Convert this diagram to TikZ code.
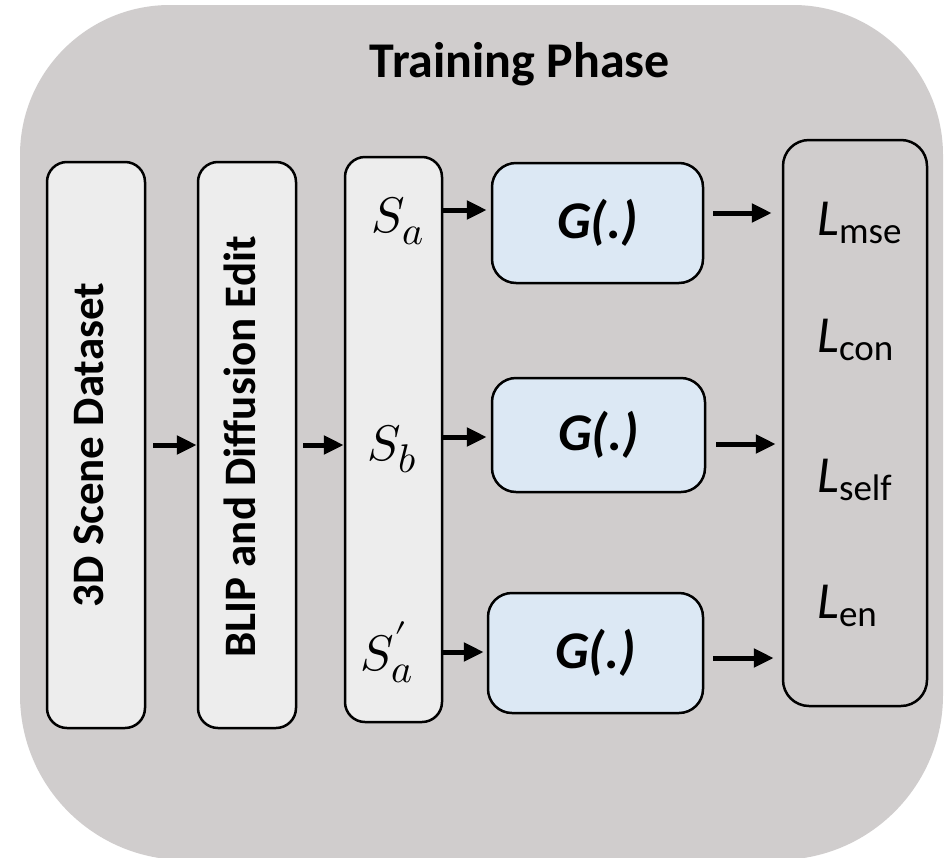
\documentclass[tikz,border=0pt]{standalone}
\usepackage{fontspec}
\usepackage{unicode-math}
\setmainfont{Carlito}
\setmathfont{Latin Modern Math}
\DeclareMathSizes{50}{50}{40}{30}
\usetikzlibrary{arrows.meta}
\definecolor{panelgray}{HTML}{D0CDCD}
\definecolor{boxgray}{HTML}{EDEDED}
\definecolor{genblue}{HTML}{DCE8F4}
\begin{document}
\begin{tikzpicture}[x=1pt,y=-1pt,
  blk/.style={draw=black, line width=2.5pt, rounded corners=20pt, inner sep=0pt, fill=boxgray},
  genbox/.style={blk, fill=genblue, rounded corners=24pt,
    font=\fontsize{53pt}{60pt}\selectfont\bfseries\itshape},
  vlabel/.style={rotate=90, anchor=base, inner sep=0pt,
    font=\fontsize{45pt}{54pt}\selectfont\bfseries},
  slabel/.style={anchor=base, inner sep=0pt, font=\fontsize{50pt}{60pt}\selectfont},
  llabel/.style={anchor=base west, inner sep=0pt},
  arr/.style={line width=5pt, -{Triangle[length=20pt,width=18pt]}}
]
\useasboundingbox (0,0) rectangle (945,857);
\fill[white] (0,0) rectangle (945,857);

% panel with large rounded corners
\fill[panelgray] (20,430)
  {[rounded corners=150pt] -- (20,5) -- (943,5) -- (943,430)}
  {[rounded corners=165pt] -- (943,860) -- (20,860) -- (20,430)} -- cycle;

\node[anchor=base, inner sep=0pt, font=\fontsize{50pt}{60pt}\selectfont\bfseries]
  (title) at (520,77) {Training Phase};

% pipeline boxes
\node[blk, minimum width=98pt, minimum height=566pt] (b1) at (96,445) {};
\node[blk, minimum width=98pt, minimum height=566pt] (b2) at (247,445) {};
\node[blk, minimum width=97pt, minimum height=565pt] (sbox) at (393.5,439.5) {};
\node[blk, fill=none, rounded corners=26pt, minimum width=144pt, minimum height=566pt] (lbox) at (855,423) {};

\node[vlabel] (t1) at (103,445) {3D Scene Dataset};
\node[vlabel] (t2) at (255,447) {BLIP and Diffusion Edit};

% generator branches
\node[genbox, minimum width=211pt, minimum height=120pt] (g1) at (597.5,223) {G(.)};
\node[genbox, minimum width=213pt, minimum height=114pt] (g2) at (598.5,435) {G(.)};
\node[genbox, minimum width=215pt, minimum height=120pt] (g3) at (595.5,653) {G(.)};

% scene inputs
\node[slabel] (sa) at (398,232) {$S_a$};
\node[slabel] (sb) at (392,460) {$S_b$};
\node[slabel] (sap) at (387,670) {$S'_a$};

% losses
\newcommand{\lossterm}[1]{\fontsize{52pt}{60pt}\selectfont\textit{L}\raisebox{-8pt}{\fontsize{37pt}{42pt}\selectfont #1}}
\node[llabel] (lmse) at (817,235) {\lossterm{mse}};
\node[llabel] (lcon) at (817,352) {\lossterm{con}};
\node[llabel] (lself) at (817,492) {\lossterm{self}};
\node[llabel] (len) at (817,618) {\lossterm{en}};

% connectors
\draw[arr] ([xshift=7pt]b1.east) -- (b2.west);
\draw[arr] ([xshift=6pt]b2.east) -- (b2.east -| sbox.west);

\coordinate (i1) at ([xshift=-4pt,yshift=13pt]g1.west);
\coordinate (i2) at ([xshift=-4pt,yshift=-2pt]g2.west);
\coordinate (i3) at ([xshift=-3pt,yshift=1pt]g3.west);
\draw[arr] (i1 -| sbox.east) -- (i1);
\draw[arr] (i2 -| sbox.east) -- (i2);
\draw[arr] (i3 -| sbox.east) -- (i3);

\coordinate (o1) at ([xshift=9pt,yshift=10pt]g1.east);
\coordinate (o2) at ([xshift=10pt,yshift=-9pt]g2.east);
\coordinate (o3) at ([xshift=9pt,yshift=-5pt]g3.east);
\draw[arr] (o1) -- ([xshift=-10pt]o1 -| lbox.west);
\draw[arr] (o2) -- ([xshift=-6pt]o2 -| lbox.west);
\draw[arr] (o3) -- ([xshift=-8pt]o3 -| lbox.west);
\end{tikzpicture}
\end{document}
